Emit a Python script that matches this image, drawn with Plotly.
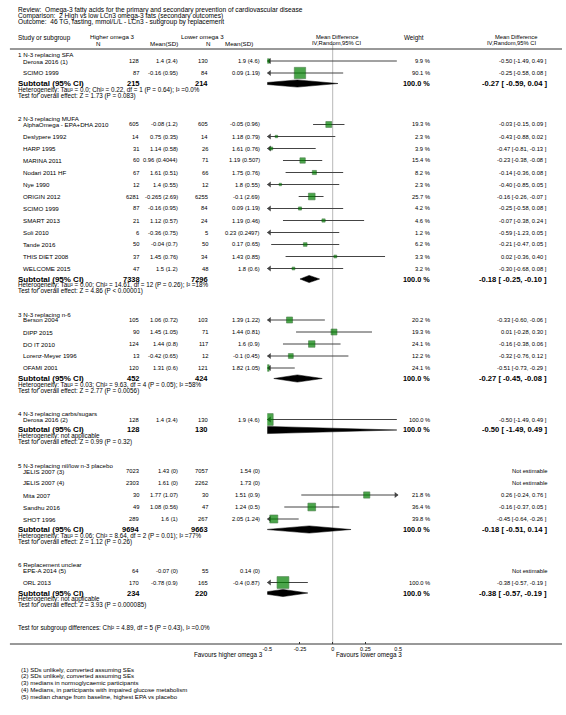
import math
import plotly.graph_objects as go

W, H = 566, 715
FONT = "Liberation Sans, Arial, sans-serif"

review_lines = [
    "Review:  Omega-3 fatty acids for the primary and secondary prevention of cardiovascular disease",
    "Comparison:  2 High vs low LCn3 omega-3 fats (secondary outcomes)",
    "Outcome:  46 TG, fasting, mmol/L/L - LCn3 - subgroup by replacement",
]

group_titles = [
    "1 N-3 replacing SFA",
    "2 N-3 replacing MUFA",
    "3 N-3 replacing n-6",
    "4 N-3 replacing carbs/sugars",
    "5 N-3 replacing nil/low n-3 placebo",
    "6 Replacement unclear",
]
group_sizes = [2, 13, 5, 1, 5, 2]

study_names = [
    "Derosa 2016 (1)", "SCIMO 1999",
    "AlphaOmega - EPA+DHA 2010", "Deslypere 1992", "HARP 1995", "MARINA 2011",
    "Nodari 2011 HF", "Nye 1990", "ORIGIN 2012", "SCIMO 1999", "SMART 2013",
    "Soli 2010", "Tande 2016", "THIS DIET 2008", "WELCOME 2015",
    "Berson 2004", "DIPP 2015", "DO IT 2010", "Lorenz-Meyer 1996", "OFAMI 2001",
    "Derosa 2016 (2)",
    "JELIS 2007 (3)", "JELIS 2007 (4)", "Mita 2007", "Sandhu 2016", "SHOT 1996",
    "EPE-A 2014 (5)", "ORL 2013",
]
n_high = [128, 87,
          605, 14, 31, 60, 67, 12, 6281, 87, 21, 6, 50, 37, 47,
          105, 90, 124, 13, 120,
          128,
          7023, 2303, 30, 49, 289,
          64, 170]
mean_high = [1.4, -0.16,
             -0.08, 0.75, 1.14, 0.96, 1.61, 1.4, -0.265, -0.16, 1.12, -0.36, -0.04, 1.45, 1.5,
             1.06, 1.45, 1.44, -0.42, 1.31,
             1.4,
             1.43, 1.61, 1.77, 1.08, 1.6,
             -0.07, -0.78]
sd_high = [3.4, 0.95,
           1.2, 0.35, 0.58, 0.4044, 0.51, 0.55, 2.69, 0.95, 0.57, 0.75, 0.7, 0.76, 1.2,
           0.72, 1.05, 0.8, 0.65, 0.6,
           3.4,
           0, 0, 1.07, 0.56, 1,
           0, 0.9]
n_low = [130, 84,
         605, 14, 26, 71, 66, 12, 6255, 84, 24, 5, 50, 34, 48,
         103, 71, 117, 12, 121,
         130,
         7057, 2262, 30, 47, 267,
         55, 165]
mean_low = [1.9, 0.09,
            -0.05, 1.18, 1.61, 1.19, 1.75, 1.8, -0.1, 0.09, 1.19, 0.23, 0.17, 1.43, 1.8,
            1.39, 1.44, 1.6, -0.1, 1.82,
            1.9,
            1.54, 1.73, 1.51, 1.24, 2.05,
            0.14, -0.4]
sd_low = [4.6, 1.19,
          0.96, 0.79, 0.76, 0.507, 0.76, 0.55, 2.69, 1.19, 0.46, 0.2497, 0.65, 0.85, 0.6,
          1.22, 0.81, 0.9, 0.45, 1.05,
          4.6,
          0, 0, 0.9, 0.5, 1.24,
          0, 0.87]
weights = [9.9, 90.1,
           19.3, 2.3, 3.9, 15.4, 8.2, 2.3, 25.7, 4.2, 4.6, 1.2, 6.2, 3.3, 3.2,
           20.2, 19.3, 24.1, 12.2, 24.1,
           100.0,
           None, None, 21.8, 36.4, 39.8,
           None, 100.0]
md = [-0.50, -0.25,
      -0.03, -0.43, -0.47, -0.23, -0.14, -0.40, -0.16, -0.25, -0.07, -0.59, -0.21, 0.02, -0.30,
      -0.33, 0.01, -0.16, -0.32, -0.51,
      -0.50,
      None, None, 0.26, -0.16, -0.45,
      None, -0.38]
ci_low = [-1.49, -0.58,
          -0.15, -0.88, -0.81, -0.38, -0.36, -0.85, -0.26, -0.58, -0.38, -1.23, -0.47, -0.36, -0.68,
          -0.60, -0.28, -0.38, -0.76, -0.73,
          -1.49,
          None, None, -0.24, -0.37, -0.64,
          None, -0.57]
ci_high = [0.49, 0.08,
           0.09, 0.02, -0.13, -0.08, 0.08, 0.05, -0.07, 0.08, 0.24, 0.05, 0.05, 0.40, 0.08,
           -0.06, 0.30, 0.06, 0.12, -0.29,
           0.49,
           None, None, 0.76, 0.05, -0.26,
           None, -0.19]

sub_n_high = [215, 7338, 452, 128, 9694, 234]
sub_n_low = [214, 7296, 424, 130, 9663, 220]
sub_md = [-0.27, -0.18, -0.27, -0.50, -0.18, -0.38]
sub_lo = [-0.59, -0.25, -0.45, -1.49, -0.51, -0.57]
sub_hi = [0.04, -0.10, -0.08, 0.49, 0.14, -0.19]
het_texts = [
    "Heterogeneity: Tau² = 0.0; Chi² = 0.22, df = 1 (P = 0.64); I² =0.0%",
    "Heterogeneity: Tau² = 0.00; Chi² = 14.61, df = 12 (P = 0.26); I² =18%",
    "Heterogeneity: Tau² = 0.03; Chi² = 9.63, df = 4 (P = 0.05); I² =58%",
    "Heterogeneity: not applicable",
    "Heterogeneity: Tau² = 0.06; Chi² = 8.64, df = 2 (P = 0.01); I² =77%",
    "Heterogeneity: not applicable",
]
overall_texts = [
    "Test for overall effect: Z = 1.73 (P = 0.083)",
    "Test for overall effect: Z = 4.86 (P < 0.00001)",
    "Test for overall effect: Z = 2.77 (P = 0.0056)",
    "Test for overall effect: Z = 0.99 (P = 0.32)",
    "Test for overall effect: Z = 1.12 (P = 0.26)",
    "Test for overall effect: Z = 3.93 (P = 0.000085)",
]
subgroup_diff_text = "Test for subgroup differences: Chi² = 4.89, df = 5 (P = 0.43), I² =0.0%"
footnotes = [
    "(1) SDs unlikely, converted assuming SEs",
    "(2) SDs unlikely, converted assuming SEs",
    "(3) medians in normoglycaemic participants",
    "(4) Medians, in participants with impaired glucose metabolism",
    "(5) median change from baseline, highest EPA vs placebo",
]
x_ticks = [-0.5, -0.25, 0, 0.25, 0.5]
x_tick_labels = ["-0.5", "-0.25", "0", "0.25", "0.5"]
favours_left = "Favours higher omega 3"
favours_right = "Favours lower omega 3"

# ---------------- layout of rows (pixel rows from top) ----------------
group_y, study_y, sub_y, het_y, test_y = [], [], [], [], []
y = 55.0
for n in group_sizes:
    group_y.append(y)
    y += 6
    for k in range(n):
        study_y.append(y)
        y += 12
    y -= 12
    y += 10.5
    sub_y.append(y)
    het_y.append(y + 6.3)
    test_y.append(y + 12.3)
    y += 35.0
diff_y = y

# column positions (px)
X_LEFT, X_STUDY = 12, 17
X_NH, X_MH, X_NL, X_ML = 137, 177, 207, 260
X_W, X_CI = 433, 552
AXIS_Y = 644

F_SMALL = 6.2    # study rows on the left
F_NUM = 5.8      # numeric columns
F_INFO = 6.3     # heterogeneity / overall effect lines
ann = []


def txt(x, y, s, size=F_SMALL, anchor="left", bold=False, color="black"):
    ann.append(dict(x=x / W, y=1 - y / H, xref="paper", yref="paper",
                    text=("<b>" + s + "</b>") if bold else s, showarrow=False,
                    xanchor=anchor, yanchor="middle", borderpad=0,
                    font=dict(size=size, family=FONT, color=color)))


def fmt(v):
    return f"{v:g}"


# header
for i, line in enumerate(review_lines):
    txt(X_LEFT, 10 + 6 * i, line, size=6.6)
txt(X_LEFT, 38, "Study or subgroup", size=6.4)
txt(85, 37, "Higher omega 3", size=6.2)
txt(95, 43, "N", size=6.2, anchor="center")
txt(X_MH, 43, "Mean(SD)", size=6.2, anchor="right")
txt(178, 37, "Lower omega 3", size=6.2)
txt(206, 43, "N", size=6.2, anchor="center")
txt(238, 43, "Mean(SD)", size=6.2, anchor="center")
txt(337, 37, "Mean Difference", size=5.8, anchor="center")
txt(337, 43, "IV,Random,95% CI", size=5.8, anchor="center")
txt(416, 38, "Weight", size=6.3, anchor="center")
txt(519, 37, "Mean Difference", size=5.8, anchor="center")
txt(515, 43, "IV,Random,95% CI", size=5.8, anchor="center")

# groups
si = 0
for g, n in enumerate(group_sizes):
    txt(X_LEFT, group_y[g], group_titles[g], size=F_SMALL)
    for k in range(n):
        yy = study_y[si]
        txt(X_STUDY, yy, study_names[si], size=F_SMALL)
        txt(X_NH, yy, str(n_high[si]), size=F_NUM, anchor="right")
        txt(X_MH, yy, f"{fmt(mean_high[si])} ({fmt(sd_high[si])})", size=F_NUM, anchor="right")
        txt(X_NL, yy, str(n_low[si]), size=F_NUM, anchor="right")
        txt(X_ML, yy, f"{fmt(mean_low[si])} ({fmt(sd_low[si])})", size=F_NUM, anchor="right")
        if weights[si] is not None:
            txt(X_W, yy, f"{weights[si]:.1f} %", size=F_NUM, anchor="right")
            txt(X_CI, yy, f"{md[si]:.2f} [{ci_low[si]:.2f}, {ci_high[si]:.2f} ]",
                size=F_NUM, anchor="right")
        else:
            txt(X_CI, yy, "Not estimable", size=F_NUM, anchor="right")
        si += 1
    txt(X_LEFT, sub_y[g], "Subtotal (95% CI)", size=8.0, bold=True)
    txt(X_NH + 1, sub_y[g], str(sub_n_high[g]), size=7.5, anchor="right", bold=True)
    txt(X_NL, sub_y[g], str(sub_n_low[g]), size=7.5, anchor="right", bold=True)
    txt(X_W, sub_y[g], "100.0 %", size=7.3, anchor="right", bold=True)
    txt(X_CI, sub_y[g], f"{sub_md[g]:.2f} [ {sub_lo[g]:.2f}, {sub_hi[g]:.2f} ]",
        size=7.6, anchor="right", bold=True)
    txt(X_LEFT, het_y[g], het_texts[g], size=F_INFO)
    txt(X_LEFT, test_y[g], overall_texts[g], size=F_INFO)

txt(X_LEFT, diff_y, subgroup_diff_text, size=F_INFO)
txt(263, 655, favours_left, size=6.3, anchor="right")
txt(335, 655, favours_right, size=6.3, anchor="left")
for i, f in enumerate(footnotes):
    txt(15, 669 + 6.75 * i, f, size=6.1)

# ---------------- forest marks ----------------
traces = []
LINE_C = "#444444"
lx, ly = [], []
arr_l_x, arr_l_y, arr_r_x, arr_r_y = [], [], [], []
sq_x, sq_y, sq_s = [], [], []
for i in range(len(study_names)):
    if md[i] is None:
        continue
    yy = study_y[i]
    lx += [ci_low[i], ci_high[i], None]
    ly += [yy, yy, None]
    if ci_low[i] < x_ticks[0]:
        arr_l_x.append(x_ticks[0] + 0.017)
        arr_l_y.append(yy)
    if ci_high[i] > x_ticks[-1]:
        arr_r_x.append(x_ticks[-1] - 0.017)
        arr_r_y.append(yy)
    sq_x.append(md[i])
    sq_y.append(yy)
    sq_s.append(max(1.5, 11.3 * (weights[i] / 90.0) ** 0.42))

traces.append(go.Scatter(x=lx, y=ly, mode="lines", line=dict(color=LINE_C, width=1),
                         hoverinfo="skip", showlegend=False))
traces.append(go.Scatter(x=arr_l_x, y=arr_l_y, mode="markers",
                         marker=dict(symbol="triangle-left", size=5, color=LINE_C, line=dict(width=0)),
                         hoverinfo="skip", showlegend=False))
traces.append(go.Scatter(x=arr_r_x, y=arr_r_y, mode="markers",
                         marker=dict(symbol="triangle-right", size=5, color=LINE_C, line=dict(width=0)),
                         hoverinfo="skip", showlegend=False))
traces.append(go.Scatter(x=sq_x, y=sq_y, mode="markers",
                         marker=dict(symbol="square", size=sq_s, color="#008000",
                                     line=dict(color="#004a00", width=0.6)),
                         hoverinfo="skip", showlegend=False))

dx, dy = [], []
for g in range(len(group_sizes)):
    yy = sub_y[g]
    dx += [sub_lo[g], sub_md[g], sub_hi[g], sub_md[g], sub_lo[g], None]
    dy += [yy, yy - 3.6, yy, yy + 3.6, yy, None]
traces.append(go.Scatter(x=dx, y=dy, mode="lines", fill="toself", fillcolor="black",
                         line=dict(color="black", width=0.5), hoverinfo="skip", showlegend=False))

fig = go.Figure(traces)

shapes = [
    dict(type="line", xref="paper", yref="paper", x0=5 / W, x1=1, y0=1 - 49 / H, y1=1 - 49 / H,
         line=dict(color="#333", width=1)),
    dict(type="line", xref="paper", yref="paper", x0=5 / W, x1=1, y0=1 - AXIS_Y / H, y1=1 - AXIS_Y / H,
         line=dict(color="#333", width=1)),
    dict(type="line", xref="x", yref="y", x0=0, x1=0, y0=44, y1=AXIS_Y,
         line=dict(color="#b8b8b8", width=1), layer="below"),
]

fig.update_layout(
    width=W, height=H, autosize=False,
    margin=dict(l=0, r=0, t=0, b=0),
    paper_bgcolor="white", plot_bgcolor="rgba(0,0,0,0)",
    showlegend=False,
    annotations=ann, shapes=shapes,
    xaxis=dict(domain=[(333 - 66.5) / W, (333 + 66.5) / W], range=[x_ticks[0], x_ticks[-1]],
               anchor="free", position=1 - AXIS_Y / H,
               tickvals=x_ticks, ticktext=x_tick_labels, ticks="inside", ticklen=2,
               tickcolor="#333", tickfont=dict(size=5.5, family=FONT, color="black"),
               showgrid=False, zeroline=False, showline=False, fixedrange=True),
    yaxis=dict(domain=[0, 1], range=[H, 0], visible=False, fixedrange=True),
)

fig.write_html("out.html", config={"displayModeBar": False},
               post_script="document.body.style.margin='0px';document.body.style.padding='0px';")
